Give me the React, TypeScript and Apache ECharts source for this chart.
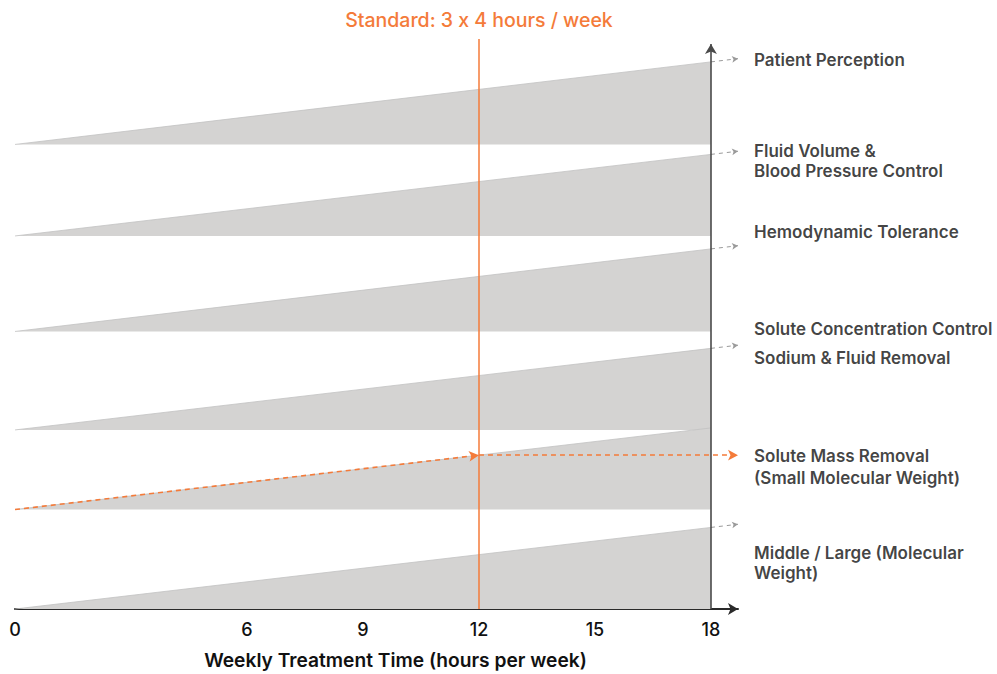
import React, { useEffect, useRef } from "react";
import * as echarts from "echarts";

// ---- data ----
const X_MAX_HOURS = 18;
const X_AXIS_END = 18.7;
const Y_AXIS_MAX = 5.73;
const xTickLabels = [0, 6, 9, 12, 15, 18];
const standardHours = 12;
const standardTitleParts = ["Standard: 3 ", "x", " 4 hours / week"];
const xAxisTitle = "Weekly Treatment Time (hours per week)";

const bandLabels = [
  "Patient Perception",
  "Fluid Volume &\nBlood Pressure Control",
  "Hemodynamic Tolerance",
  "Solute Concentration Control\nSodium & Fluid Removal",
  "Solute Mass Removal\n(Small Molecular Weight)",
  "Middle / Large (Molecular\nWeight)",
];
const bandBase = [4.67, 3.75, 2.79, 1.8, 1.0, 0.0];
const bandTop = [5.5, 4.57, 3.62, 2.62, 1.82, 0.82];
const orangeBandIndex = 4;

// label layout (pixels)
const labelOffsetY = [1, 10, -14, -1.5, 12, 39];
const labelLineHeight = [20, 20, 20, 29, 22, 20];

const ORANGE = "#f47b3a";
const GRAY_FILL = "#d4d3d2";
const TEXT = "#111111";
const FONT = 'Inter, "Helvetica Neue", Arial, sans-serif';
const WEIGHT = 600;

export default function App() {
  const ref = useRef<HTMLDivElement>(null);

  useEffect(() => {
    const chart = echarts.init(ref.current!, null, { renderer: "svg" });

    const slope = (i: number) => (bandTop[i] - bandBase[i]) / X_MAX_HOURS;
    const standardY =
      bandBase[orangeBandIndex] + slope(orangeBandIndex) * standardHours;
    const tipY = bandLabels.map((_, i) =>
      i === orangeBandIndex
        ? standardY
        : bandTop[i] + slope(i) * (X_AXIS_END - X_MAX_HOURS)
    );

    const grayArrows: any[] = bandLabels
      .map((_, i) => i)
      .filter((i) => i !== orangeBandIndex)
      .map((i) => [
        {
          coord: [X_MAX_HOURS, bandTop[i]],
          symbol: "none",
          lineStyle: { color: "#9a9a9a", width: 1, type: [4, 4] },
        },
        { coord: [X_AXIS_END, tipY[i]], symbol: "arrow", symbolSize: [5, 6] },
      ]);

    const titleStyle = {
      color: ORANGE,
      fontSize: 19.5,
      fontFamily: FONT,
      fontWeight: 500,
    };

    const markLines: any[] = [
      ...grayArrows,
      [
        {
          coord: [0, bandBase[orangeBandIndex]],
          symbol: "none",
          lineStyle: { color: ORANGE, width: 1.6, type: [5, 4] },
        },
        { coord: [standardHours, standardY], symbol: "arrow", symbolSize: [8, 10] },
      ],
      [
        {
          coord: [standardHours, standardY],
          symbol: "none",
          lineStyle: { color: ORANGE, width: 1.6, type: [5, 4] },
        },
        { coord: [X_AXIS_END, standardY], symbol: "arrow", symbolSize: [8, 10] },
      ],
      [
        {
          coord: [standardHours, 0],
          symbol: "none",
          lineStyle: { color: ORANGE, width: 1.5, type: "solid" },
          label: {
            show: true,
            position: "end",
            distance: 9,
            formatter: `{a|${standardTitleParts[0]}}{b|${standardTitleParts[1]}}{a|${standardTitleParts[2]}}`,
            ...titleStyle,
            rich: { a: { ...titleStyle }, b: { ...titleStyle } },
          },
        },
        { coord: [standardHours, Y_AXIS_MAX], symbol: "none" },
      ],
      [
        {
          coord: [X_MAX_HOURS, 0],
          symbol: "none",
          lineStyle: { color: "#4a4a4a", width: 1.6, type: "solid" },
        },
        { coord: [X_MAX_HOURS, 5.68], symbol: "arrow", symbolSize: [9, 10] },
      ],
    ];

    chart.setOption({
      animation: false,
      grid: { left: 15, right: 259, top: 39, bottom: 62, containLabel: false },
      xAxis: {
        type: "value",
        min: 0,
        max: X_AXIS_END,
        interval: 3,
        splitLine: { show: false },
        axisTick: { show: false },
        axisLine: {
          show: true,
          symbol: ["none", "arrow"],
          symbolSize: [9, 10],
          lineStyle: { color: "#2a2a2a", width: 2 },
        },
        axisLabel: {
          color: TEXT,
          fontSize: 18,
          fontFamily: FONT,
          fontWeight: 500,
          margin: 11,
          showMaxLabel: false,
          formatter: (v: number) => (xTickLabels.includes(v) ? String(v) : ""),
        },
        name: xAxisTitle,
        nameLocation: "middle",
        nameGap: 41,
        nameTextStyle: {
          color: TEXT,
          fontSize: 19.2,
          fontFamily: FONT,
          fontWeight: WEIGHT,
          padding: [0, 0, 0, 38],
        },
      },
      yAxis: {
        type: "value",
        min: 0,
        max: Y_AXIS_MAX,
        show: false,
      },
      series: [
        {
          type: "custom",
          silent: true,
          z: 1,
          encode: { x: [0, 2], y: [1, 3] },
          data: bandBase.map((b, i) => [0, b, X_MAX_HOURS, bandTop[i]]),
          renderItem: (_params: any, api: any) => {
            const p0 = api.coord([api.value(0), api.value(1)]);
            const p1 = api.coord([api.value(2), api.value(1)]);
            const p2 = api.coord([api.value(2), api.value(3)]);
            return {
              type: "group",
              children: [
                {
                  type: "polygon",
                  shape: { points: [p0, p1, p2] },
                  style: { fill: GRAY_FILL },
                },
                {
                  type: "line",
                  shape: { x1: p0[0], y1: p0[1], x2: p2[0], y2: p2[1] },
                  style: { stroke: "#c2c2c2", lineWidth: 0.8 },
                },
              ],
            };
          },
          markLine: {
            silent: true,
            animation: false,
            symbol: ["none", "arrow"],
            label: { show: false },
            emphasis: { disabled: true },
            data: markLines,
          },
        },
        {
          type: "scatter",
          silent: true,
          z: 5,
          symbolSize: 0,
          clip: false,
          data: bandLabels.map((name, i) => ({
            value: [X_AXIS_END, tipY[i]],
            name,
            label: {
              offset: [0, labelOffsetY[i]],
              lineHeight: labelLineHeight[i],
            },
          })),
          label: {
            show: true,
            position: "right",
            distance: 16,
            formatter: (p: any) => p.name,
            color: TEXT,
            fontSize: 17,
            fontFamily: FONT,
            fontWeight: WEIGHT,
            align: "left",
          },
        },
      ],
    });

    return () => chart.dispose();
  }, []);

  return (
    <div
      ref={ref}
      style={{ position: "fixed", left: 0, top: 0, width: 997, height: 674, background: "#fff" }}
    />
  );
}
